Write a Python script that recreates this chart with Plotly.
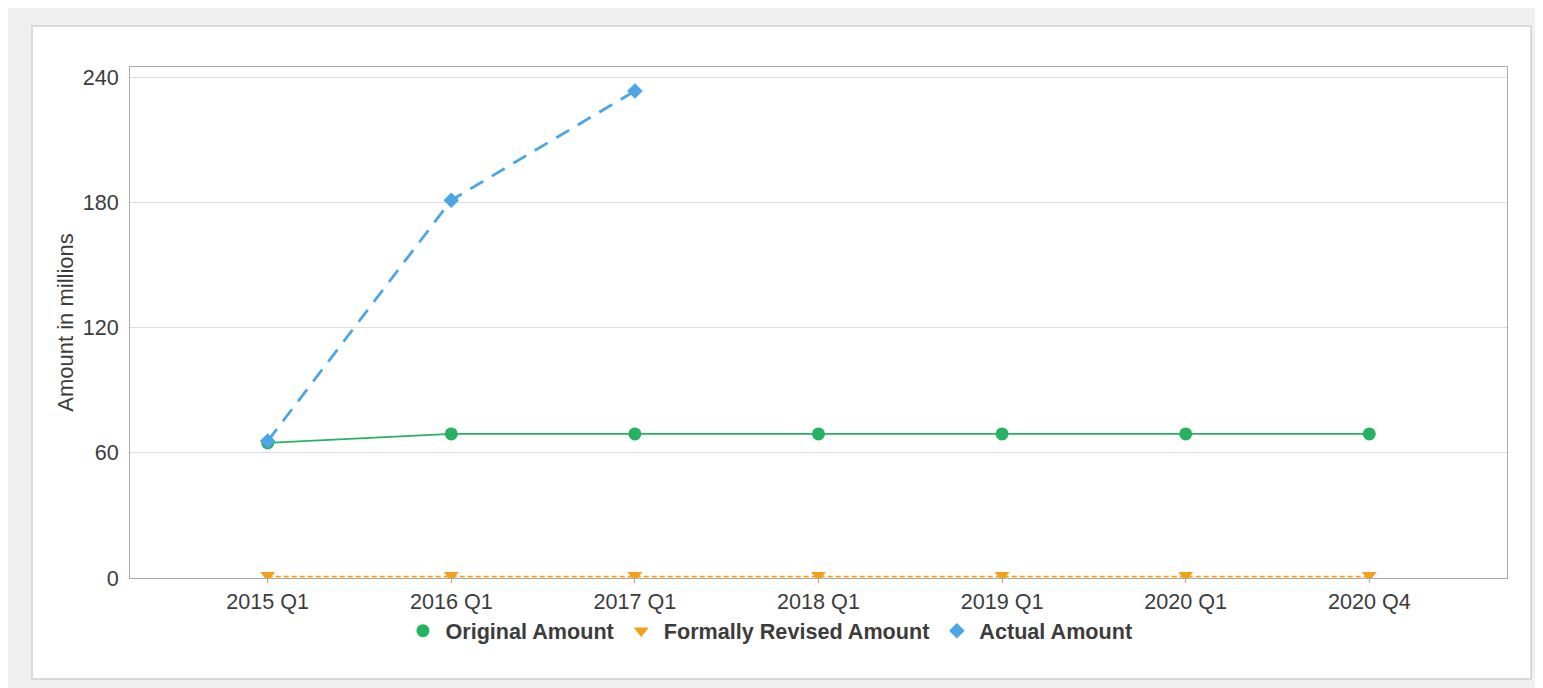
import plotly.graph_objects as go

categories = ["2015 Q1", "2016 Q1", "2017 Q1", "2018 Q1", "2019 Q1", "2020 Q1", "2020 Q4"]
original_amount = [64.7, 69.0, 69.0, 69.0, 69.0, 69.0, 69.0]
formally_revised_amount = [0, 0, 0, 0, 0, 0, 0]
actual_amount = [65.6, 181.0, 233.3, None, None, None, None]
y_ticks = [0, 60, 120, 180, 240]

GREEN = "#27b163"
ORANGE = "#f3a11c"
BLUE = "#4ca5e6"
FONT = "Liberation Sans, Arial, sans-serif"
TXT = "#3c3c3c"

PL, PT, PW, PH = 122, 59, 1377, 511
YMAX = 244.8
TRI_SHIFT = 2.75 * YMAX / PH   # small visual lift of the triangle markers
LINE_SHIFT = 1.3 * YMAX / PH   # keeps the zero-level dashed line visible above the axis

series = [
    ("Original Amount", original_amount, GREEN, dict(width=1.8), dict(symbol="circle", size=13), "y", "y"),
    ("Formally Revised Amount", formally_revised_amount, ORANGE, dict(width=1.8, dash="5px,3px"),
     dict(symbol="triangle-down", size=13), "y3", "y2"),
    ("Actual Amount", actual_amount, BLUE, dict(width=2.8, dash="15px,10px"), dict(symbol="diamond", size=12), "y", "y"),
]

fig = go.Figure()
for name, vals, color, line, marker, lax, max_ in series:
    fig.add_trace(go.Scatter(
        x=categories, y=vals, name=name, mode="lines", showlegend=False,
        line=dict(color=color, **line), legendgroup=name, hoverinfo="skip", yaxis=lax,
    ))
for name, vals, color, line, marker, lax, max_ in series:
    fig.add_trace(go.Scatter(
        x=categories, y=vals, name=name, mode="markers", legendgroup=name,
        marker=dict(color=color, **marker), yaxis=max_,
    ))

# white panel with light border
fig.add_shape(type="rect", xref="paper", yref="paper",
              x0=(24 - PL) / PW, x1=(1523 - PL) / PW,
              y0=(PT + PH - 671) / PH, y1=(PT + PH - 18) / PH,
              fillcolor="white", line=dict(color="#d9d9d9", width=2), layer="below")

fig.update_layout(
    width=1535, height=680,
    margin=dict(l=PL, r=1535 - PL - PW, t=PT, b=680 - PT - PH, autoexpand=False),
    paper_bgcolor="#efefef",
    plot_bgcolor="#fdfdfd",
    font=dict(family=FONT, size=21.6, color=TXT),
    showlegend=True,
    legend=dict(orientation="h", x=0.464, xanchor="center", y=-0.104, yanchor="middle",
                font=dict(family=FONT, size=21.6, color=TXT, weight="bold"),
                bgcolor="rgba(0,0,0,0)", traceorder="normal", itemwidth=35),
    xaxis=dict(
        type="category", range=[-0.75, 6.75],
        showgrid=False, showline=True, linecolor="#aaaaaa", linewidth=1, mirror=True,
        ticks="outside", ticklen=4, tickcolor="#aaaaaa", tickwidth=1,
        tickfont=dict(family=FONT, size=21.6, color=TXT),
        zeroline=False, layer="below traces",
    ),
    yaxis=dict(
        range=[0, YMAX], tickvals=y_ticks,
        showgrid=True, gridcolor="#dddddd", gridwidth=1,
        showline=True, linecolor="#aaaaaa", linewidth=1, mirror=True,
        ticks="", ticklabelstandoff=6, tickfont=dict(family=FONT, size=21.6, color=TXT),
        zeroline=False, layer="below traces",
        title=dict(text="Amount in millions", font=dict(family=FONT, size=22, color=TXT), standoff=2),
    ),
    yaxis2=dict(overlaying="y", range=[-TRI_SHIFT, YMAX - TRI_SHIFT], visible=False),
    yaxis3=dict(overlaying="y", range=[-LINE_SHIFT, YMAX - LINE_SHIFT], visible=False),
)

fig.write_html("out.html")
